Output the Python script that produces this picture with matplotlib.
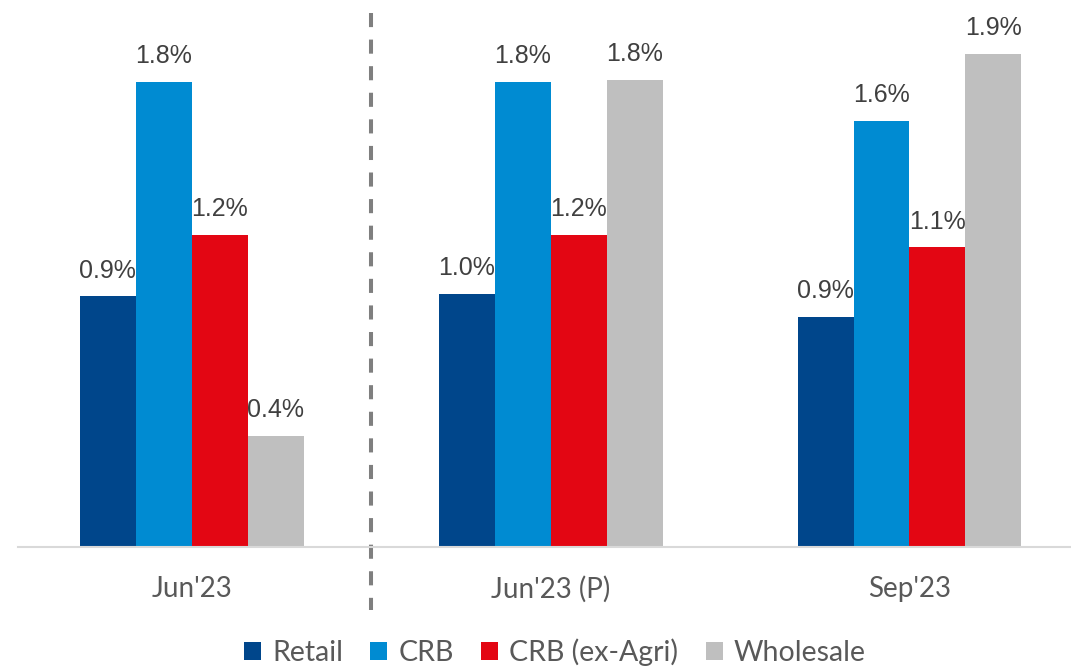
import matplotlib.pyplot as plt
import numpy as np
from matplotlib.transforms import blended_transform_factory

# values (in %)
periods = ["Jun'23", "Jun'23 (P)", "Sep'23"]
series = ['Retail', 'CRB', 'CRB (ex-Agri)', 'Wholesale']
retail = [0.97, 0.98, 0.89]
crb = [1.80, 1.80, 1.65]
crb_ex_agri = [1.21, 1.21, 1.16]
wholesale = [0.43, 1.81, 1.91]
labels = [
    ['0.9%', '1.0%', '0.9%'],
    ['1.8%', '1.8%', '1.6%'],
    ['1.2%', '1.2%', '1.1%'],
    ['0.4%', '1.8%', '1.9%'],
]
colors = ['#00468B', '#008BD2', '#E30613', '#BFBFBF']

fig = plt.figure(figsize=(10.71, 6.66), dpi=100)
ax = fig.add_axes([18 / 1071, 119 / 666, 1 - 18 / 1071, 547 / 666])

x = np.arange(len(periods))
width = 0.156
values = [retail, crb, crb_ex_agri, wholesale]
for i, (name, vals, col) in enumerate(zip(series, values, colors)):
    pos = x + (i - 1.5) * width
    ax.bar(pos, vals, width, color=col, label=name)
    for px, v, lab in zip(pos, vals, labels[i]):
        ax.annotate(lab, (px, v), xytext=(0, 10), textcoords='offset points',
                    ha='center', va='bottom', fontsize=18,
                    family='Liberation Sans', color='#404040')

ax.set_xlim(-0.484, 2.45)
ax.set_ylim(0, 2.118)
ax.set_yticks([])
ax.set_xticks(x)
ax.set_xticklabels(periods, fontsize=20, family='Lato', color='#595959')
ax.tick_params(axis='x', length=0, pad=21)
for s in ['top', 'right', 'left']:
    ax.spines[s].set_visible(False)
ax.spines['bottom'].set_color('#D9D9D9')
ax.spines['bottom'].set_linewidth(1.5)

# dashed divider between actual and pro-forma
trans = blended_transform_factory(ax.transData, ax.transAxes)
ax.plot([0.5, 0.5], [0.976, -0.115], transform=trans, clip_on=False,
        color='#7F7F7F', linewidth=2.9, dashes=(3.5, 3.1))

fig.legend(loc='center', bbox_to_anchor=(0.518, 1 - 652 / 666), ncol=4,
           frameon=False, prop={'family': 'Lato', 'size': 20.5},
           labelcolor='#595959', handlelength=0.6, handleheight=0.6,
           handletextpad=0.4, columnspacing=0.95)

fig.savefig('out.png', dpi=100)
